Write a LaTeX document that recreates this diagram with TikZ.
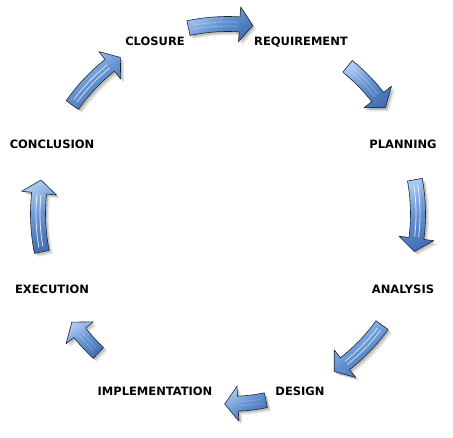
\documentclass[tikz,border=0pt]{standalone}
\usepackage{fontspec}
\setmainfont{DejaVu Sans}
\definecolor{arrlight}{RGB}{170,200,240}
\definecolor{arrmid}{RGB}{100,146,210}
\definecolor{arrdark}{RGB}{66,110,178}
\definecolor{arredge}{RGB}{30,38,52}
\newcommand\arrowpath[2]{%
  (#1:197.5) arc[start angle=#1,end angle=\ab,radius=197.5] -- (\ab:207.5) -- (#2:190)
  -- (\ab:172.5) -- (\ab:182.5) arc[start angle=\ab,end angle=#1,radius=182.5] -- cycle}
\newcommand\cyclearrow[3]{%
  \pgfmathsetmacro\ab{#2+4}%
  \pgfmathsetmacro\sa{#1-1.5}%
  \pgfmathsetmacro\sb{\ab+0.5}%
  \fill[black,opacity=0.10,shift={(3.5,-3.5)}] \arrowpath{#1}{#2};
  \fill[black,opacity=0.16,shift={(2,-2)}] \arrowpath{#1}{#2};
  \path[arrowstyle] \arrowpath{#1}{#2};
  \draw[white,opacity=#3,line width=0.8pt] (\sa:188) arc[start angle=\sa,end angle=\sb,radius=188];
  \draw[white,opacity=#3,line width=0.8pt] (\sa:192) arc[start angle=\sa,end angle=\sb,radius=192];
}
\tikzset{
  arrowstyle/.style={draw=arredge,line width=0.6pt,line join=round,
    top color=arrlight,bottom color=arrdark,middle color=arrmid,shading angle=35},
  lbl/.style={font=\bfseries\fontsize{11.5}{13}\selectfont,text=black,inner sep=0pt}
}
\begin{document}
\begin{tikzpicture}[x=1pt,y=1pt]
\useasboundingbox (0,0) rectangle (453,437);
\fill[white] (0,0) rectangle (453,437);
\begin{scope}[shift={(228,223)}]
  \cyclearrow{102}{82.5}{0.25}
  \cyclearrow{51}{34}{0.25}
  \cyclearrow{10.4}{-11.4}{0.8}
  \cyclearrow{-35.8}{-56}{0.7}
  \cyclearrow{-78.5}{-91}{0.2}
  \cyclearrow{-133}{-145.3}{0.25}
  \cyclearrow{191.5}{169.7}{0.8}
  \cyclearrow{145}{124.5}{0.7}
\end{scope}
\node[lbl] (closure) at (155,396) {CLOSURE};
\node[lbl] (requirement) at (301,395) {REQUIREMENT};
\node[lbl] (planning) at (403,293) {PLANNING};
\node[lbl] (analysis) at (403,148) {ANALYSIS};
\node[lbl] (design) at (300,46) {DESIGN};
\node[lbl] (implementation) at (155,46) {IMPLEMENTATION};
\node[lbl] (execution) at (52,148) {EXECUTION};
\node[lbl] (conclusion) at (52,293) {CONCLUSION};
\end{tikzpicture}
\end{document}
